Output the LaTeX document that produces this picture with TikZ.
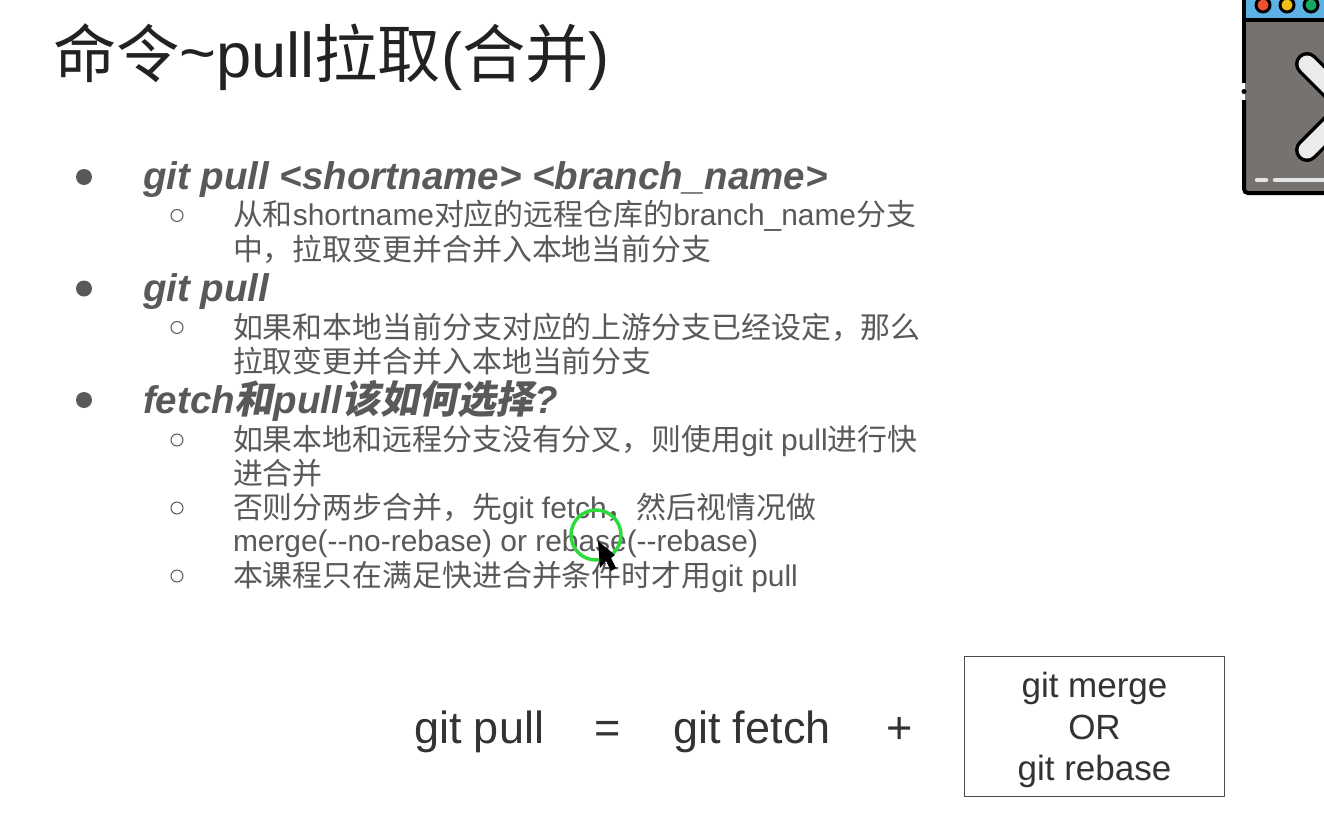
\documentclass[tikz,border=0pt]{standalone}
\usepackage{fontspec}
\setmainfont{Liberation Sans}
\newfontfamily\cjk{Noto Sans CJK SC}
\newfontfamily\cjkbi[FakeSlant=0.2]{Noto Sans CJK SC Bold}
\definecolor{slidetext}{RGB}{89,89,89}
\definecolor{titletext}{RGB}{34,34,34}
\definecolor{iconbody}{RGB}{117,114,112}
\definecolor{iconhead}{RGB}{93,178,229}
\definecolor{ringgreen}{RGB}{45,220,60}
\definecolor{lampred}{RGB}{240,80,50}
\definecolor{lampyellow}{RGB}{240,190,20}
\definecolor{lampgreen}{RGB}{20,170,100}
\tikzset{
  txt/.style={anchor=base west,inner sep=0pt,outer sep=0pt},
  toptxt/.style={txt,slidetext,font=\fontsize{38.5}{42}\selectfont\bfseries\itshape},
  subtxt/.style={txt,slidetext,font=\fontsize{29.9}{34}\selectfont},
  sumtxt/.style={txt,black!80,font=\fontsize{45}{50}\selectfont},
  dot/.style={fill=slidetext,draw=none},
  ring/.style={draw=slidetext,line width=1pt}
}
\begin{document}
\begin{tikzpicture}[x=1pt,y=-1pt]
\clip (0,0) rectangle (1324,819);
\fill [white] (0,0) rectangle (1324,819);

\node [txt,titletext,font=\fontsize{63.2}{68}\selectfont] (title) at (53,77) {{\cjk 命令}\raisebox{3pt}{\char`~}pull{\cjk 拉取}({\cjk 合并})};

% top level
\foreach \y in {177,288.5,400} {\fill [dot] (84,\y) circle (8);}
\node [toptxt] (top1) at (143,189) {git pull <shortname> <branch\_name>};
\node [toptxt] (top2) at (143,301) {git pull};
\node [toptxt] (top3) at (143,413) {fetch{\cjkbi 和}pull{\cjkbi 该如何选择}?};

% second level
\foreach \y in {215.5,327.5,440,508,576} {\draw [ring] (177,\y) circle (6);}
\node [subtxt] (sub1a) at (233,225) {{\cjk 从和}shortname{\cjk 对应的远程仓库的}branch\_name{\cjk 分支}};
\node [subtxt] (sub1b) at (233,260) {\cjk 中，拉取变更并合并入本地当前分支};
\node [subtxt] (sub2a) at (233,338) {\cjk 如果和本地当前分支对应的上游分支已经设定，那么};
\node [subtxt] (sub2b) at (233,372) {\cjk 拉取变更并合并入本地当前分支};
\node [subtxt] (sub3a) at (233,450) {{\cjk 如果本地和远程分支没有分叉，则使用}git pull{\cjk 进行快}};
\node [subtxt] (sub3b) at (233,484) {\cjk 进合并};
\node [subtxt] (sub4a) at (233,518) {{\cjk 否则分两步合并，先}git fetch{\cjk ，然后视情况做}};
\node [subtxt] (sub4b) at (233,551) {merge(-{}-no-rebase) or rebase(-{}-rebase)};
\node [subtxt] (sub5a) at (233,586) {{\cjk 本课程只在满足快进合并条件时才用}git pull};

% formula at the bottom
\node [sumtxt] (pull) at (414,743) {git pull};
\node [sumtxt] (eq) at (594,743) {=};
\node [sumtxt] (fetch) at (673,743) {git fetch};
\node [sumtxt] (plus) at (886,743) {+};
\node [draw=black!70,line width=1pt,minimum width=260.5pt,minimum height=140pt,inner sep=0pt] (choice) at (1094.5,726) {};
\node [inner sep=0pt,align=center,black!80,font=\fontsize{35}{41.5}\selectfont] (choicetxt) at (1094.5,730) {git merge\\OR\\git rebase};

% mouse pointer
\draw [ringgreen,line width=3.5pt] (596,535) circle (25);
\fill [black] (598,541) -- (600,568) -- (606,561) -- (611,571) -- (616,568) -- (611,558) -- (615,555) -- cycle;

% window icon
\fill [iconbody] (1245,0) rectangle (1330,191);
\fill [iconhead] (1245,0) rectangle (1330,20);
\draw [black,line width=4pt] (1244,0) -- (1244,83);
\draw [black,line width=4pt,rounded corners=4pt] (1244,100) -- (1244,193) -- (1330,193);
\draw [black,line width=4pt] (1244,20) -- (1330,20);
\fill [black] (1244,91.5) circle (2.5);
\foreach \x/\c in {1263/lampred,1287/lampyellow,1311/lampgreen} {\draw [black,line width=3pt,fill=\c] (\x,5) circle (7);}
\draw [black,line width=24pt,line cap=round,line join=round] (1307,64) -- (1350,107) -- (1307,150);
\draw [white!92!black,line width=17pt,line cap=round,line join=round] (1307,64) -- (1350,107) -- (1307,150);
\draw [white!90!black,line width=4.5pt,line cap=round] (1257,180) -- (1266,180);
\draw [white!90!black,line width=4.5pt,line cap=round] (1275,180) -- (1330,180);
\end{tikzpicture}
\end{document}
